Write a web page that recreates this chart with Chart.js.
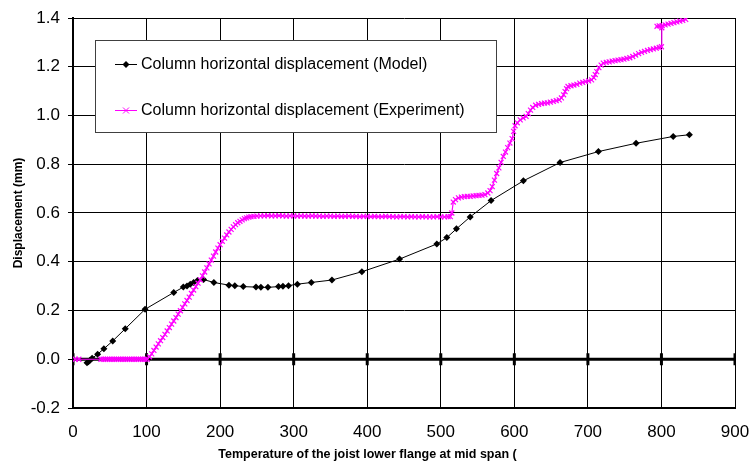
<!DOCTYPE html>
<html>
<head>
<meta charset="utf-8">
<script src="https://cdn.jsdelivr.net/npm/chart.js@4/dist/chart.umd.min.js"></script>
<style>
  html, body { margin: 0; padding: 0; background: #fff; }
  canvas { display: block; }
</style>
</head>
<body>
<canvas id="chart" width="749" height="461"></canvas>
<script>
// Axis ticks
const xTicks = [0, 100, 200, 300, 400, 500, 600, 700, 800, 900];
const yTicks = [-0.2, 0, 0.2, 0.4, 0.6, 0.8, 1.0, 1.2, 1.4];

// Labels
const modelLabel = 'Column horizontal displacement (Model)';
const expLabel = 'Column horizontal displacement (Experiment)';
const xTitle = 'Temperature of the joist lower flange at mid span (';
const yTitle = 'Displacement (mm)';

// Model: temperature (°C) and displacement (mm)
const modelTemp = [19, 21, 23, 26, 33.5, 42, 54, 71, 98, 137,
  150, 155, 159.4, 164, 169.3, 177.5, 191.5, 212, 220, 231.5,
  248.8, 255.4, 265, 279.4, 285.4, 293, 305, 324, 352, 392.7,
  444, 494.6, 508.2, 521.3, 540, 568.4, 612.3, 662.2, 714.3, 765.5,
  816, 838];
const modelDisp = [-0.014, -0.010, -0.004, 0.004, 0.021, 0.043, 0.075, 0.125, 0.205, 0.274,
  0.296, 0.301, 0.308, 0.315, 0.323, 0.327, 0.315, 0.304, 0.302, 0.298,
  0.296, 0.295, 0.295, 0.298, 0.300, 0.302, 0.308, 0.315, 0.325, 0.359,
  0.411, 0.473, 0.499, 0.535, 0.584, 0.651, 0.732, 0.807, 0.852, 0.886,
  0.914, 0.921];

// Experiment: temperature (°C) and displacement (mm)
const expTemp = [
  // start, flat at zero
  3, 8, 38, 41, 44, 47, 50, 53, 56, 59,
  62, 65, 68, 71, 74, 77, 80, 83, 86, 89,
  92, 95, 98, 101,
  // rise
  104, 107, 110, 113, 116, 119, 122, 125, 128, 131,
  134, 137, 140, 143, 146, 149, 152, 155, 158, 161,
  164, 167, 170, 173, 176, 179, 182, 185, 188, 191,
  194, 197, 200, 203, 206, 209, 212, 215, 218, 221,
  224, 227, 230, 233, 236, 239, 242, 246, 250,
  // plateau
  255, 260, 265, 270, 275, 280, 285, 290, 295, 300,
  305, 310, 315, 320, 325, 330, 335, 340, 345, 350,
  355, 360, 365, 370, 375, 380, 385, 390, 395, 400,
  405, 410, 415, 420, 425, 430, 435, 440, 445, 450,
  455, 460, 465, 470, 475, 480, 485, 490, 495, 500,
  505, 510,
  // stepped rise
  513, 515, 517, 520, 524, 528, 532, 536, 540, 544,
  548, 552, 556, 560, 564, 567, 570, 573, 576, 579,
  582, 585, 588, 591, 594, 597, 599, 601, 604, 608,
  612, 616, 619, 622, 625, 629, 633, 637, 641, 645,
  649, 653, 657, 661, 664, 667, 669, 671, 673, 677,
  681, 685, 689, 693, 697, 701, 705, 708, 710, 712,
  715, 718, 721, 725, 729, 733, 737, 741, 745, 749,
  753, 757, 761, 765, 769, 773, 777, 781, 785, 789,
  793, 797, 800, 800.5, 794, 797, 801, 805, 809, 813,
  817, 821, 825, 829, 833
];
const expDisp = [
  0, 0, 0, 0, 0, 0, 0, 0, 0, 0,
  0, 0, 0, 0, 0, 0, 0, 0, 0, 0,
  0, 0, 0, 0,
  0.010, 0.022, 0.036, 0.050, 0.063, 0.076, 0.089, 0.102, 0.116, 0.130,
  0.144, 0.157, 0.171, 0.185, 0.199, 0.213, 0.227, 0.241, 0.255, 0.270,
  0.284, 0.298, 0.312, 0.326, 0.342, 0.358, 0.375, 0.391, 0.407, 0.423,
  0.440, 0.456, 0.470, 0.484, 0.497, 0.510, 0.522, 0.533, 0.543, 0.552,
  0.560, 0.566, 0.572, 0.577, 0.580, 0.583, 0.585, 0.586, 0.587,
  0.588, 0.588, 0.589, 0.588, 0.588, 0.589, 0.588, 0.587, 0.588, 0.588,
  0.587, 0.588, 0.587, 0.587, 0.588, 0.587, 0.587, 0.586, 0.587, 0.587,
  0.586, 0.587, 0.586, 0.586, 0.587, 0.586, 0.586, 0.585, 0.586, 0.586,
  0.585, 0.586, 0.585, 0.585, 0.586, 0.585, 0.585, 0.584, 0.585, 0.585,
  0.584, 0.585, 0.584, 0.584, 0.585, 0.584, 0.584, 0.584, 0.585, 0.584,
  0.584, 0.585,
  0.585, 0.600, 0.645, 0.655, 0.662, 0.665, 0.667, 0.668, 0.668, 0.670,
  0.671, 0.672, 0.673, 0.675, 0.682, 0.692, 0.708, 0.735, 0.762, 0.785,
  0.808, 0.832, 0.850, 0.868, 0.887, 0.905, 0.935, 0.958, 0.970, 0.982,
  0.990, 0.996, 1.008, 1.022, 1.033, 1.042, 1.046, 1.049, 1.051, 1.052,
  1.055, 1.058, 1.061, 1.064, 1.072, 1.085, 1.098, 1.110, 1.119, 1.122,
  1.125, 1.128, 1.133, 1.136, 1.139, 1.142, 1.146, 1.155, 1.168, 1.180,
  1.196, 1.207, 1.215, 1.218, 1.220, 1.223, 1.225, 1.227, 1.229, 1.231,
  1.234, 1.237, 1.242, 1.248, 1.254, 1.259, 1.263, 1.267, 1.270, 1.273,
  1.276, 1.279, 1.282, 1.360, 1.366, 1.368, 1.369, 1.372, 1.375, 1.378,
  1.381, 1.384, 1.387, 1.390, 1.394
];

const FONT = "'Liberation Sans', Arial, Helvetica, sans-serif";
const MODEL_COLOR = '#000000';
const EXP_COLOR = '#ff00ff';

Chart.defaults.font.family = FONT;
Chart.defaults.color = '#000';

const toPoints = (xs, ys) => xs.map((x, i) => ({ x: x, y: ys[i] }));

// Boxed legend inside the plot area
const insetLegend = {
  id: 'insetLegend',
  afterDraw(chart) {
    const ctx = chart.ctx;
    ctx.save();
    const bx = 95.5, by = 40.5, bw = 401, bh = 92;
    ctx.fillStyle = '#ffffff';
    ctx.fillRect(bx, by, bw, bh);
    ctx.strokeStyle = '#404040';
    ctx.lineWidth = 1;
    ctx.strokeRect(bx, by, bw, bh);

    const items = [
      { label: modelLabel, color: MODEL_COLOR, marker: 'diamond', y: 64 },
      { label: expLabel, color: EXP_COLOR, marker: 'cross', y: 110 }
    ];
    items.forEach(it => {
      ctx.strokeStyle = it.color;
      ctx.lineWidth = 1;
      ctx.beginPath();
      ctx.moveTo(115, it.y + 0.5);
      ctx.lineTo(137, it.y + 0.5);
      ctx.stroke();
      const cx = 126, cy = it.y + 0.5;
      if (it.marker === 'diamond') {
        ctx.fillStyle = it.color;
        ctx.beginPath();
        ctx.moveTo(cx, cy - 3.5);
        ctx.lineTo(cx + 3.5, cy);
        ctx.lineTo(cx, cy + 3.5);
        ctx.lineTo(cx - 3.5, cy);
        ctx.closePath();
        ctx.fill();
      } else {
        ctx.beginPath();
        ctx.moveTo(cx - 3, cy - 3); ctx.lineTo(cx + 3, cy + 3);
        ctx.moveTo(cx + 3, cy - 3); ctx.lineTo(cx - 3, cy + 3);
        ctx.stroke();
      }
      ctx.fillStyle = '#000';
      ctx.font = '16px ' + FONT;
      ctx.textBaseline = 'middle';
      ctx.textAlign = 'left';
      ctx.fillText(it.label, 141, it.y + 1);
    });
    ctx.restore();
  }
};

new Chart(document.getElementById('chart'), {
  type: 'line',
  data: {
    datasets: [
      {
        label: 'zero',
        data: xTicks.map(v => ({ x: v, y: 0 })),
        borderColor: '#000',
        borderWidth: 3,
        pointStyle: 'line',
        rotation: 90,
        pointRadius: 6,
        pointBorderWidth: 3,
        pointBorderColor: '#000',
        order: 3
      },
      {
        label: modelLabel,
        data: toPoints(modelTemp, modelDisp),
        borderColor: MODEL_COLOR,
        backgroundColor: MODEL_COLOR,
        borderWidth: 1,
        pointStyle: 'rectRot',
        pointRadius: 3.5,
        pointBorderWidth: 0,
        pointBackgroundColor: MODEL_COLOR,
        order: 2
      },
      {
        label: expLabel,
        data: toPoints(expTemp, expDisp),
        borderColor: EXP_COLOR,
        backgroundColor: EXP_COLOR,
        borderWidth: 1.2,
        pointStyle: 'crossRot',
        pointRadius: 3.5,
        pointBorderWidth: 1.2,
        pointBorderColor: EXP_COLOR,
        order: 1
      }
    ]
  },
  options: {
    responsive: false,
    animation: false,
    devicePixelRatio: 1,
    layout: { padding: { top: 18, right: 14, left: 0, bottom: 0 } },
    elements: { line: { tension: 0, fill: false } },
    plugins: {
      legend: { display: false },
      tooltip: { enabled: false },
      title: {
        display: true,
        position: 'bottom',
        text: xTitle,
        color: '#000',
        font: { family: FONT, size: 12.5, weight: 'bold' },
        padding: { top: 0, bottom: -1 }
      }
    },
    scales: {
      x: {
        type: 'linear',
        min: 0,
        max: 900,
        afterBuildTicks: s => { s.ticks = xTicks.map(v => ({ value: v })); },
        afterFit: s => { s.height = 39; s.paddingLeft = 0; s.paddingRight = 0; },
        ticks: {
          color: '#000',
          font: { family: FONT, size: 17 },
          padding: 14,
          maxRotation: 0,
          callback: v => String(v)
        },
        grid: { color: '#000', lineWidth: 1, drawTicks: false },
        border: { color: '#000', width: 2 }
      },
      y: {
        type: 'linear',
        min: -0.2,
        max: 1.4,
        afterBuildTicks: s => { s.ticks = yTicks.map(v => ({ value: v })); },
        afterFit: s => { s.width = 73; s.paddingTop = 0; s.paddingBottom = 0; },
        ticks: {
          color: '#000',
          font: { family: FONT, size: 17 },
          padding: 8,
          callback: v => Number(v).toFixed(1)
        },
        grid: { color: '#000', lineWidth: 1, drawTicks: true, tickLength: 5, tickColor: '#000' },
        border: { color: '#000', width: 2 },
        title: {
          display: true,
          text: yTitle,
          color: '#000',
          font: { family: FONT, size: 12, weight: 'bold' },
          padding: { top: 11, bottom: 0 }
        }
      }
    }
  },
  plugins: [insetLegend]
});
</script>
</body>
</html>
